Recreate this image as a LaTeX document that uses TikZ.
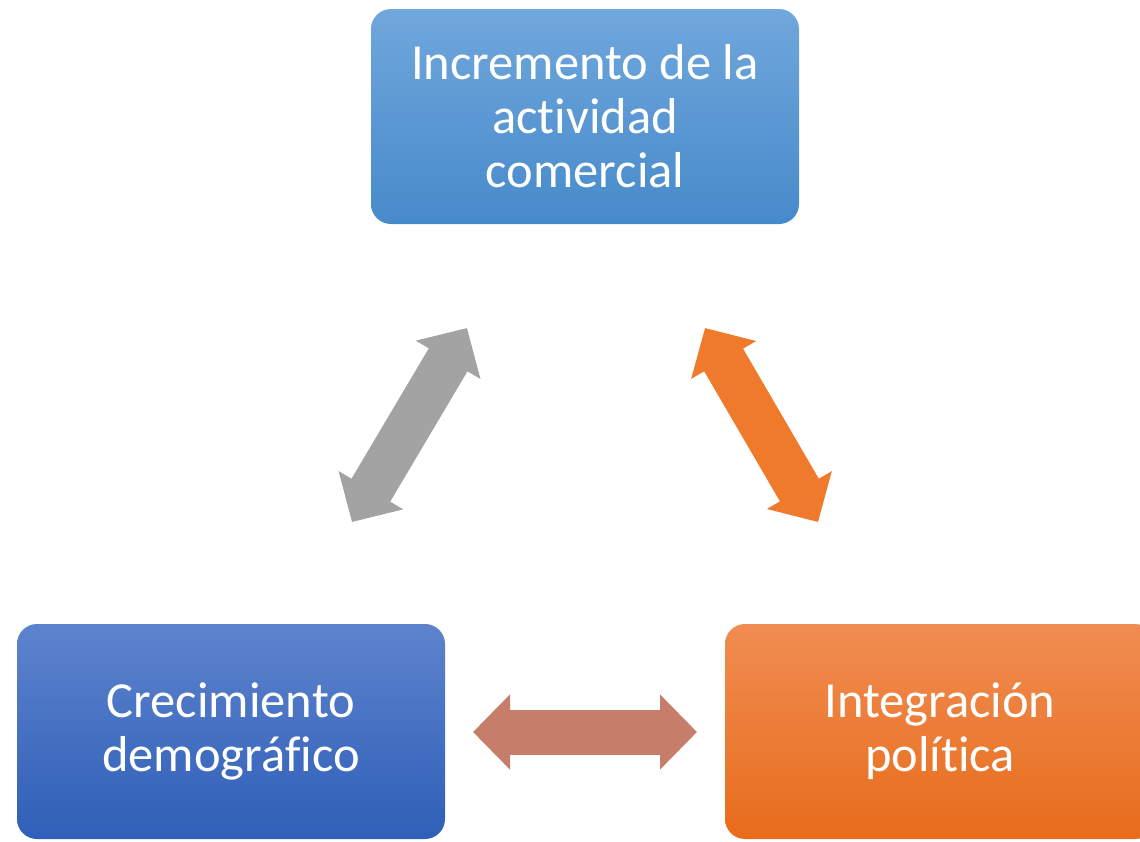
\documentclass[tikz,border=0pt]{standalone}
\usepackage{fontspec}
\setmainfont{Carlito}[Ligatures={NoCommon,NoRare,NoContextual}]
\usetikzlibrary{arrows.meta}
\definecolor{lightBlueTop}{HTML}{70A7DC}
\definecolor{lightBlueBot}{HTML}{478ACB}
\definecolor{darkBlueTop}{HTML}{5D83CD}
\definecolor{darkBlueBot}{HTML}{2F5FB8}
\definecolor{orangeTop}{HTML}{F08D52}
\definecolor{orangeBot}{HTML}{E86C1B}
\definecolor{arrowGray}{HTML}{A3A3A3}
\definecolor{arrowOrange}{HTML}{EF7A2C}
\definecolor{arrowBrown}{HTML}{C67D69}
\tikzstyle{bigbox}=[rectangle, rounded corners=20pt, minimum width=428pt, minimum height=215pt, align=center, text=white, font=\fontsize{50.5}{54}\selectfont]
\tikzstyle{blockArrow}=[line width=45pt, {Triangle[length=37pt,width=73pt]}-{Triangle[length=37pt,width=73pt]}]

\begin{document}
\begin{tikzpicture}[x=1pt, y=-1pt]
    \useasboundingbox (0,0) rectangle (1140,841);
    % boxes
    \node[bigbox, top color=lightBlueTop, bottom color=lightBlueBot] (b1) at (585, 116.5) {Incremento de la\\actividad\\comercial};
    \node[bigbox, top color=darkBlueTop, bottom color=darkBlueBot] (b2) at (231, 731.5) {Crecimiento\\demográfico};
    \node[bigbox, minimum width=430pt, top color=orangeTop, bottom color=orangeBot] (b3) at (940, 731.5) {Integración\\política};

    % arrow ends
    \coordinate (a1) at (352, 522);
    \coordinate (a2) at (467, 328);
    \coordinate (a3) at (705, 328);
    \coordinate (a4) at (818, 522);
    \coordinate (a5) at (473, 732);
    \coordinate (a6) at (697, 732);

    % arrows
    \draw[blockArrow, arrowGray] (a1) -- (a2);
    \draw[blockArrow, arrowOrange] (a3) -- (a4);
    \draw[blockArrow, arrowBrown] (a5) -- (a6);

\end{tikzpicture}
\end{document}
